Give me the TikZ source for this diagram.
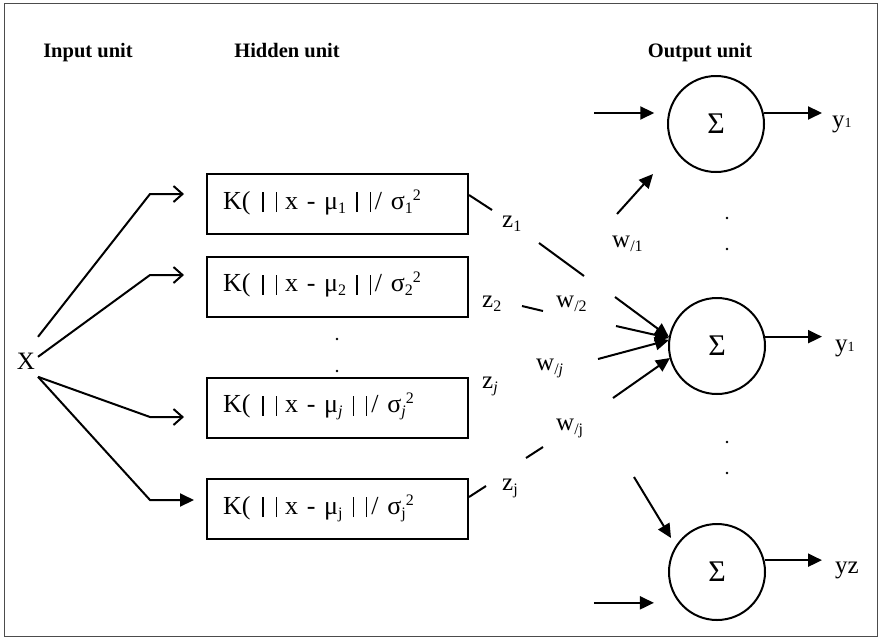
\documentclass[tikz,border=0pt]{standalone}
\usepackage{fontspec}
\setmainfont{Liberation Serif}
\usetikzlibrary{arrows.meta,calc}

% vertical bar of the norm, and small lowered / raised indices
\newcommand{\normbar}{\rule[-3pt]{1.4pt}{20pt}}
\newcommand{\lowidx}[1]{\raisebox{-4pt}{\fontsize{16}{16}\selectfont #1}}
\newcommand{\highidx}[1]{\raisebox{9pt}{\fontsize{16}{16}\selectfont #1}}
\newcommand{\kernexpr}[2]{K(\hspace{12pt}\normbar\hspace{12pt}\normbar\hspace{8pt}x - μ\lowidx{#1}\hspace{10pt}\normbar\hspace{12pt}\normbar\hspace{4pt}/ σ\lowidx{#2}\highidx{2}}

\begin{document}
\begin{tikzpicture}[x=1pt,y=-1pt,
  frame/.style={draw=black!70, line width=1pt},
  heading/.style={font=\fontsize{20.5}{20.5}\selectfont\bfseries, anchor=base, inner sep=0pt},
  rbf/.style={draw, line width=2pt, minimum width=261pt, minimum height=60pt,
    text width=229pt, align=left, inner xsep=16pt, inner ysep=0pt,
    text height=18pt, text depth=8pt, font=\fontsize{26}{26}\selectfont},
  sumnode/.style={circle, draw, line width=2pt, minimum size=96pt, inner sep=0pt,
    font=\fontsize{30}{30}\selectfont},
  lbl/.style={font=\fontsize{25}{25}\selectfont, anchor=base west, inner sep=0pt},
  conn/.style={line width=2pt},
  tip/.style={conn, -{Triangle[length=14pt,width=13pt]}},
  barb/.style={conn, -{Straight Barb[length=9pt,width=16pt,line width=2pt]}},
  dotmark/.style={fill=black}
]
\useasboundingbox (0,0) rectangle (880,638);
\draw[frame] (4,3) rectangle (877,636);

% column headings
\node[heading] (hin)  at (88,57)  {Input unit};
\node[heading] (hhid) at (287,57) {Hidden unit};
\node[heading] (hout) at (700,57) {Output unit};

% input
\node[font=\fontsize{25}{25}\selectfont, anchor=base, inner sep=0pt] (X) at (26,369) {X};

% hidden units
\node[rbf] (b1) at (337.5,204)   {\kernexpr{1}{1}};
\node[rbf] (b2) at (337.5,286.5) {\kernexpr{2}{2}};
\node[rbf] (b3) at (337.5,407.5) {\kernexpr{\textit{j}}{\textit{j}}};
\node[rbf] (b4) at (337.5,509)   {\kernexpr{j}{j}};
\fill[dotmark] (337,339) circle (1.3);
\fill[dotmark] (337,371) circle (1.3);

% output units
\node[sumnode] (c1) at (716,124) {Σ};
\node[sumnode] (c2) at (717,346) {Σ};
\node[sumnode] (c3) at (717,572) {Σ};
\fill[dotmark] (727,218) circle (1.3);
\fill[dotmark] (727,249) circle (1.3);
\fill[dotmark] (727,442) circle (1.3);
\fill[dotmark] (727,473) circle (1.3);

% outputs
\node[lbl] (y1a) at (832,127) {y{\fontsize{14}{14}\selectfont 1}};
\node[lbl] (y1b) at (835,351) {y{\fontsize{14}{14}\selectfont 1}};
\node[lbl] (yz)  at (835,573) {yz};
\draw[tip] (c1.13) -- ($(y1a.west |- c1.13)+(-10,0)$);
\draw[tip] (c2.11) -- ($(y1b.west |- c2.11)+(-13,0)$);
\draw[tip] (c3.14) -- ($(yz.west |- c3.14)+(-13,0)$);

% external inputs of the first and last output unit
\draw[tip] ($(c1.167)+(-74,0)$) -- ($(c1.167)+(-14,0)$);
\draw[tip] ($(c3.-141)+(-85,0)$) -- ($(c3.-141)+(-25,0)$);

% input to hidden connections
\draw[barb] ($(X)+(12,-24)$) -- (150,194) -- ($(b1.west)+(-22,-10)$);
\draw[barb] ($(X)+(12,-4)$)  -- (150,275) -- ($(b2.west)+(-22,-11.5)$);
\draw[barb] ($(X)+(12,16)$)  -- (150,417) -- ($(b3.west)+(-22,9.5)$);
\draw[tip]  ($(X)+(12,16)$)  -- (150,500) -- ($(b4.west)+(-12,-9)$);

% weight and activation labels
\node[lbl] (z1) at (502,227) {z\lowidx{1}};
\node[lbl] (w1) at (612,247) {w\lowidx{/1}};
\node[lbl] (z2) at (482,307) {z\lowidx{2}};
\node[lbl] (w2) at (556,307) {w\lowidx{/2}};
\node[lbl] (wj) at (536,370) {w\lowidx{/\textit{j}}};
\node[lbl] (zj) at (482,388) {z\lowidx{\textit{j}}};
\node[lbl] (wJ) at (556,430) {w\lowidx{/j}};
\node[lbl] (zJ) at (502,490) {z\lowidx{j}};

% hidden to output connections, broken by the labels
\coordinate (e1) at (617,214);
\draw[tip] (e1) -- (653,174);

\draw[conn] ($(b1.east)+(0,-9)$) -- (492,210);
\draw[conn] (539,243) -- (584,276);
\coordinate (e2) at (615,297);
\draw[tip] (e2) -- (669,337);

\draw[conn] (522,306) -- (543,311);
\coordinate (e3) at (616,326);
\draw[tip] (e3) -- (669,338);

\coordinate (e4) at (598,359);
\draw[tip] (e4) -- (669,340);

\draw[conn] ($(b4.east)+(0,-12)$) -- (486,486);
\draw[conn] (526,458) -- (543,447);
\coordinate (e5) at (613,398);
\draw[tip] (e5) -- (670,358);

\coordinate (e6) at (634,477);
\draw[tip] (e6) -- (671,538);
\end{tikzpicture}
\end{document}
